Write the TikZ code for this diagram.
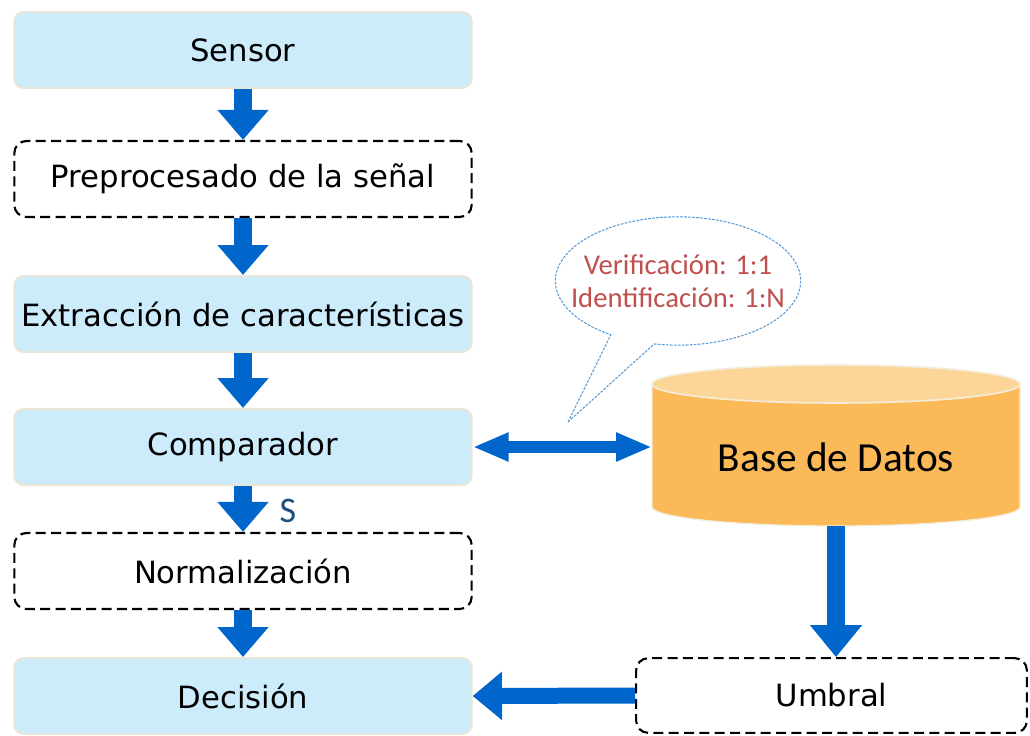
\documentclass[tikz,border=0pt]{standalone}
\usepackage{fontspec}
\setmainfont{DejaVu Sans}
\newfontfamily\calibri{Carlito}
\usetikzlibrary{arrows.meta,shapes.callouts}

\definecolor{boxblue}{HTML}{CCECFC}
\definecolor{boxedge}{HTML}{EAE6D7}
\definecolor{flowblue}{HTML}{0066CC}
\definecolor{dbside}{HTML}{FBBA57}
\definecolor{dbtop}{HTML}{FCD699}
\definecolor{dbedge}{HTML}{F3EEDC}
\definecolor{notered}{HTML}{C0504D}
\definecolor{noteline}{HTML}{5B9BD5}
\definecolor{sblue}{HTML}{1F4E79}

\begin{document}
\begin{tikzpicture}[x=0.75pt, y=-0.75pt,
    proc/.style={rectangle, rounded corners=7pt, draw=boxedge, line width=1.5pt,
      fill=boxblue, minimum width=343pt, minimum height=57pt,
      font=\fontsize{23}{27}\selectfont},
    optbox/.style={rectangle, rounded corners=9pt, draw=black, line width=1.6pt,
      dash pattern=on 7.5pt off 4pt, minimum width=343pt, minimum height=57pt,
      font=\fontsize{23}{27}\selectfont},
    flow/.style={draw=flowblue, line width=14pt, -{Triangle[width=37pt, length=22.5pt]}}
    ]
    \useasboundingbox (0,0) rectangle (1030,735);

    % processing chain
    \node[proc] (sen) at (243,50) {Sensor};
    \node[optbox] (pre) at (243,179) {Preprocesado de la señal};
    \node[proc] (ext) at (243,314) {Extracción de características};
    \node[proc] (com) at (243,447) {Comparador};
    \node[optbox] (nor) at (243,571) {Normalización};
    \node[proc] (dec) at (243,696) {Decisión};

    \draw[flow] (sen) -- (pre);
    \draw[flow] (pre) -- (ext);
    \draw[flow] (ext) -- (com);
    \draw[flow] (com) -- (nor);
    \draw[flow] (nor) -- (dec);
    \node[text=sblue, font=\calibri\fontsize{27}{30}\selectfont] (sc) at (288,511) {S};

    % database cylinder
    \fill[dbside] (652,384) -- (652,507)
      arc[start angle=180, end angle=0, x radius=184, y radius=19] -- (1020,384) -- cycle;
    \draw[dbedge, line width=1pt] (652,384) -- (652,507)
      arc[start angle=180, end angle=0, x radius=184, y radius=19] -- (1020,384);
    \filldraw[fill=dbtop, draw=dbedge, line width=1.2pt] (836,384) ellipse [x radius=184, y radius=19];
    \node[font=\calibri\fontsize{31}{36}\selectfont] (db) at (836,457) {Base de Datos};
    \coordinate (dbW) at (652,447);
    \coordinate (dbS) at (836,526);

    \node[optbox, minimum width=293pt, minimum height=56pt] (umb) at (831.5,695.5) {Umbral};

    \draw[draw=flowblue, line width=9pt,
      {Triangle[width=20pt, length=27pt]}-{Triangle[width=20pt, length=27pt]}] (com.east) -- (dbW);
    \draw[draw=flowblue, line width=13.5pt, -{Triangle[width=37.5pt, length=24pt]}] (dbS) -- (dbS |- umb.north);
    \draw[draw=flowblue, line width=12pt, -{Triangle[width=35pt, length=22pt]}] (umb.west) -- (dec.east);

    % note on the matching mode
    \coordinate (tip) at (568,422);
    \node[ellipse callout, callout absolute pointer={(tip)}, callout pointer arc=22,
      draw=noteline, line width=0.8pt, dash pattern=on 2pt off 1pt,
      inner xsep=-16pt, inner ysep=14pt,
      minimum width=184pt, minimum height=93pt, align=center, text=notered,
      font=\calibri\fontsize{21.5}{25}\selectfont] (note) at (678,281)
      {Verificación: 1:1\\Identificación: 1:N};
\end{tikzpicture}
\end{document}
